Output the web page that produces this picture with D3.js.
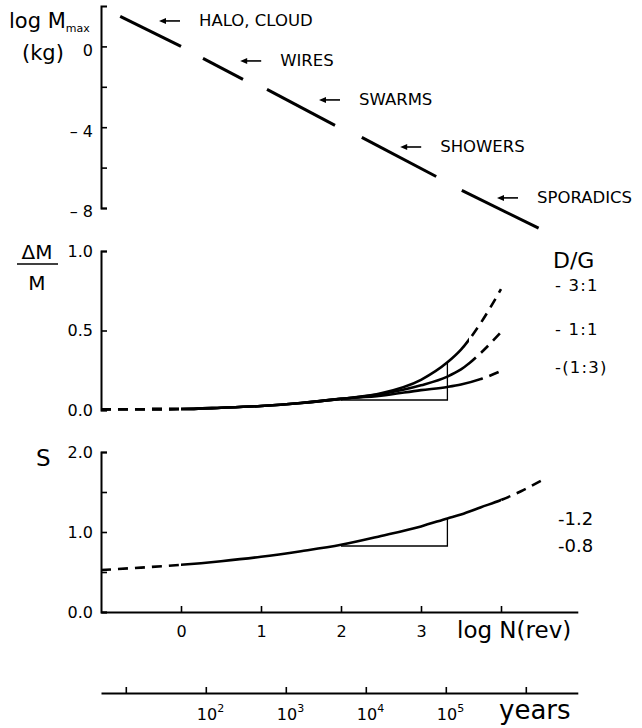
<!DOCTYPE html>
<html><head><meta charset="utf-8">
<script src="https://cdn.jsdelivr.net/npm/d3@7"></script>
<style>
body{margin:0;background:#fff;}
svg text{font-family:"DejaVu Sans",sans-serif;fill:#000;}
</style></head><body>
<svg id="c" width="642" height="728"></svg>
<script>
// ---------- DATA ----------
// top panel: max mass vs log N, one segment per population
const massGroups   = ["HALO, CLOUD", "WIRES", "SWARMS", "SHOWERS", "SPORADICS"];
const massSegLogN  = [[-0.76, 0], [0.275, 0.775], [1.075, 1.925], [2.26, 3.19], [3.51, 4.47]];
const massSegLogM  = [[1.49, 0], [-0.59, -1.63], [-2.13, -3.91], [-4.5, -6.44], [-7.13, -9.0]];
const arrowTipLogN = [-0.275, 0.74, 1.725, 2.74, 3.95];
const arrowTipLogM = [1.26, -0.72, -2.65, -4.98, -7.5];
const topTicks      = [0, -2, -4, -6, -8];
const topTickLabels = ["0", "", "\u2013 4", "", "\u2013 8"];

// middle panel: ΔM/M for three D/G ratios
const dgLabels  = ["- 3:1", "- 1:1", "-(1:3)"];
const gridLogN  = [-1, -0.5, 0, 0.5, 1, 1.5, 2, 2.5, 3, 3.33, 3.5, 3.75, 4.0];
const dm31      = [0.004, 0.005, 0.006, 0.014, 0.025, 0.044, 0.07, 0.105, 0.19, 0.30, 0.38, 0.55, 0.76];
const dm11      = [0.004, 0.005, 0.006, 0.014, 0.025, 0.044, 0.07, 0.10, 0.155, 0.21, 0.255, 0.36, 0.49];
const dm13      = [0.004, 0.005, 0.006, 0.014, 0.025, 0.044, 0.07, 0.09, 0.125, 0.145, 0.16, 0.195, 0.245];
const dmSolidEnd = [3.6, 3.6, 3.75];
const midTicks      = [0, 0.5, 1];
const midTickLabels = ["0.0", "0.5", "1.0"];
const dmTriangle = {n0: 2.0, n1: 3.33, v0: 0.063};

// bottom panel: S
const sLogN   = [-1, -0.5, 0, 0.5, 1, 1.5, 2, 2.5, 3, 3.33, 3.5, 3.75, 4.0, 4.25, 4.5];
const sVals   = [0.525, 0.555, 0.59, 0.635, 0.69, 0.76, 0.84, 0.95, 1.07, 1.17, 1.22, 1.31, 1.40, 1.51, 1.64];
const sSolidEnd = 4.0;
const sTriangle = {n0: 2.0, n1: 3.33, v0: 0.825, v1: 1.17};
const sSlopeLabels = ["-1.2", "-0.8"];
const botTicks      = [0, 0.5, 1, 1.5, 2];
const botTickLabels = ["0.0", "", "1.0", "", "2.0"];
const xTicks      = [0, 1, 2, 3, 4];
const xTickLabels = ["0", "1", "2", "3", ""];

// years axis (log10 years)
const yearExp       = [1, 2, 3, 4, 5, 6];
const yearExpLabels = ["", "2", "3", "4", "5", ""];
const yearsOffset   = 1.69; // log years = log N + offset

// ---------- DRAW ----------
const svg = d3.select("#c");
const x    = d3.scaleLinear().domain([-1, 4]).range([101, 501]);
const yTop = d3.scaleLinear().domain([2, -8]).range([6, 208]);
const yMid = d3.scaleLinear().domain([0, 1]).range([410, 251]);
const yBot = d3.scaleLinear().domain([0, 2]).range([612, 452]);
const xEnd = 4.96;
const xYears = d3.scaleLinear().domain([-1 + yearsOffset, xEnd + yearsOffset]).range([x(-1), x(xEnd)]);

function yAxis(scale, ticks, labels) {
  const g = svg.append("g").attr("transform", `translate(${x(-1)},0)`);
  g.call(d3.axisRight(scale).tickValues(ticks).tickSizeInner(6).tickSizeOuter(6)
    .tickFormat((d, i) => labels[i]));
  g.select(".domain").attr("stroke-width", 2).attr("stroke", "#000");
  g.selectAll(".tick line").attr("stroke-width", 1.6).attr("stroke", "#000");
  g.selectAll(".tick text").attr("x", -8).attr("text-anchor", "end")
    .attr("font-size", 16).attr("fill", "#000");
  return g;
}
yAxis(yTop, topTicks, topTickLabels).selectAll(".tick text").attr("dy", "0.55em");
yAxis(yMid, midTicks, midTickLabels);
yAxis(yBot, botTicks, botTickLabels);

// top panel segments
const segs = massGroups.map((g, i) => ({name: g,
  pts: massSegLogN[i].map((n, j) => [n, massSegLogM[i][j]])}));
svg.append("g").selectAll("line").data(segs).join("line")
  .attr("x1", d => x(d.pts[0][0])).attr("y1", d => yTop(d.pts[0][1]))
  .attr("x2", d => x(d.pts[1][0])).attr("y2", d => yTop(d.pts[1][1]))
  .attr("stroke", "#000").attr("stroke-width", 3);

const ann = svg.append("g");
massGroups.forEach((g, i) => {
  const ax = x(arrowTipLogN[i]), ay = yTop(arrowTipLogM[i]);
  ann.append("line").attr("x1", ax + 21).attr("y1", ay).attr("x2", ax + 5).attr("y2", ay)
    .attr("stroke", "#000").attr("stroke-width", 1.6);
  ann.append("path").attr("d", `M${ax},${ay} L${ax + 7},${ay - 3} L${ax + 7},${ay + 3} Z`)
    .attr("fill", "#000");
  ann.append("text").attr("x", ax + 40).attr("y", ay - 1).attr("dy", "0.35em")
    .attr("font-size", 16.5).text(g);
});

// top y label
const tl = svg.append("text").attr("x", 9).attr("y", 28).attr("font-size", 21);
tl.append("tspan").text("log M");
tl.append("tspan").attr("font-size", 11).attr("dy", 4).text("max");
svg.append("text").attr("x", 22).attr("y", 60).attr("font-size", 21).text("(kg)");

// clip helpers: solid between solidFrom..solidTo, dashed elsewhere
const defs = svg.append("defs");
function clips(id, solidFrom, solidTo) {
  defs.append("clipPath").attr("id", id + "s").append("rect")
    .attr("x", x(solidFrom)).attr("width", x(solidTo) - x(solidFrom)).attr("y", 0).attr("height", 728);
  const cd = defs.append("clipPath").attr("id", id + "d");
  cd.append("rect").attr("x", 0).attr("width", x(solidFrom)).attr("y", 0).attr("height", 728);
  cd.append("rect").attr("x", x(solidTo)).attr("width", 642 - x(solidTo)).attr("y", 0).attr("height", 728);
}

// middle panel curves
const dmSeries = [dm31, dm11, dm13];
dmSeries.forEach((vals, i) => {
  const pts = gridLogN.map((n, j) => [n, vals[j]]);
  clips("dm" + i, 0, dmSolidEnd[i]);
  const ln = d3.line().x(d => x(d[0])).y(d => yMid(d[1])).curve(d3.curveMonotoneX);
  svg.append("path").attr("d", ln(pts)).attr("fill", "none").attr("stroke", "#000")
    .attr("stroke-width", 2.6).attr("clip-path", `url(#dm${i}s)`);
  svg.append("path").attr("d", ln(pts)).attr("fill", "none").attr("stroke", "#000")
    .attr("stroke-width", 2.6).attr("stroke-dasharray", "10,7").attr("clip-path", `url(#dm${i}d)`);
});
// middle triangle
const topAtN1 = dm31[gridLogN.indexOf(dmTriangle.n1)];
svg.append("path").attr("d",
  `M${x(dmTriangle.n0)},${yMid(dmTriangle.v0)} H${x(dmTriangle.n1)} V${yMid(topAtN1)}`)
  .attr("fill", "none").attr("stroke", "#000").attr("stroke-width", 1.3);

// middle labels
svg.append("text").attr("x", 37).attr("y", 259).attr("text-anchor", "middle").attr("font-size", 20).text("\u0394M");
svg.append("line").attr("x1", 17).attr("x2", 58).attr("y1", 264).attr("y2", 264).attr("stroke", "#000").attr("stroke-width", 1.6);
svg.append("text").attr("x", 37).attr("y", 290).attr("text-anchor", "middle").attr("font-size", 20).text("M");
svg.append("text").attr("x", 553).attr("y", 268).attr("font-size", 22).text("D/G");
const dgY = [285, 329, 367];
dgLabels.forEach((t, i) => {
  svg.append("text").attr("x", 555).attr("y", dgY[i]).attr("dy", "0.35em")
    .attr("font-size", 16.5).attr("letter-spacing", 1.2).attr("xml:space", "preserve").text(t);
});

// bottom panel S
const sPts = sLogN.map((n, j) => [n, sVals[j]]);
clips("s", 0, sSolidEnd);
const sl = d3.line().x(d => x(d[0])).y(d => yBot(d[1])).curve(d3.curveMonotoneX);
svg.append("path").attr("d", sl(sPts)).attr("fill", "none").attr("stroke", "#000")
  .attr("stroke-width", 2.6).attr("clip-path", "url(#ss)");
svg.append("path").attr("d", sl(sPts)).attr("fill", "none").attr("stroke", "#000")
  .attr("stroke-width", 2.6).attr("stroke-dasharray", "10,7").attr("clip-path", "url(#sd)");
svg.append("path").attr("d",
  `M${x(sTriangle.n0)},${yBot(sTriangle.v0)} H${x(sTriangle.n1)} V${yBot(sTriangle.v1)}`)
  .attr("fill", "none").attr("stroke", "#000").attr("stroke-width", 1.3);
[sTriangle.v1, sTriangle.v0].forEach((v, i) => {
  svg.append("text").attr("x", 558).attr("y", yBot(v)).attr("dy", "0.35em")
    .attr("font-size", 18).text(sSlopeLabels[i]);
});
svg.append("text").attr("x", 36).attr("y", 466).attr("font-size", 23).text("S");

// bottom x axis (log N)
const gx = svg.append("g").attr("transform", `translate(0,${yBot(0)})`);
gx.call(d3.axisTop(d3.scaleLinear().domain([-1, xEnd]).range([x(-1), x(xEnd)]))
  .tickValues(xTicks).tickSizeInner(6).tickSizeOuter(0).tickFormat((d, i) => xTickLabels[i]));
gx.select(".domain").attr("stroke-width", 2).attr("stroke", "#000");
gx.selectAll(".tick line").attr("stroke-width", 1.6).attr("stroke", "#000");
gx.selectAll(".tick text").attr("y", 19).attr("dy", "0.35em").attr("font-size", 16).attr("fill", "#000");
svg.append("text").attr("x", 457).attr("y", 638).attr("font-size", 23).text("log N(rev)");

// years axis
const gy = svg.append("g").attr("transform", "translate(0,693)");
gy.call(d3.axisTop(xYears).tickValues(yearExp).tickSizeInner(6).tickSizeOuter(0).tickFormat(() => ""));
gy.select(".domain").attr("stroke-width", 2).attr("stroke", "#000");
gy.selectAll(".tick line").attr("stroke-width", 1.6).attr("stroke", "#000");
yearExp.forEach((e, i) => {
  if (!yearExpLabels[i]) return;
  const t = svg.append("text").attr("x", xYears(e) - 9).attr("y", 720).attr("font-size", 16);
  t.append("tspan").text("10");
  t.append("tspan").attr("font-size", 11).attr("dy", -8).text(yearExpLabels[i]);
});
svg.append("text").attr("x", 499).attr("y", 719).attr("font-size", 26).text("years");
</script>
</body></html>
